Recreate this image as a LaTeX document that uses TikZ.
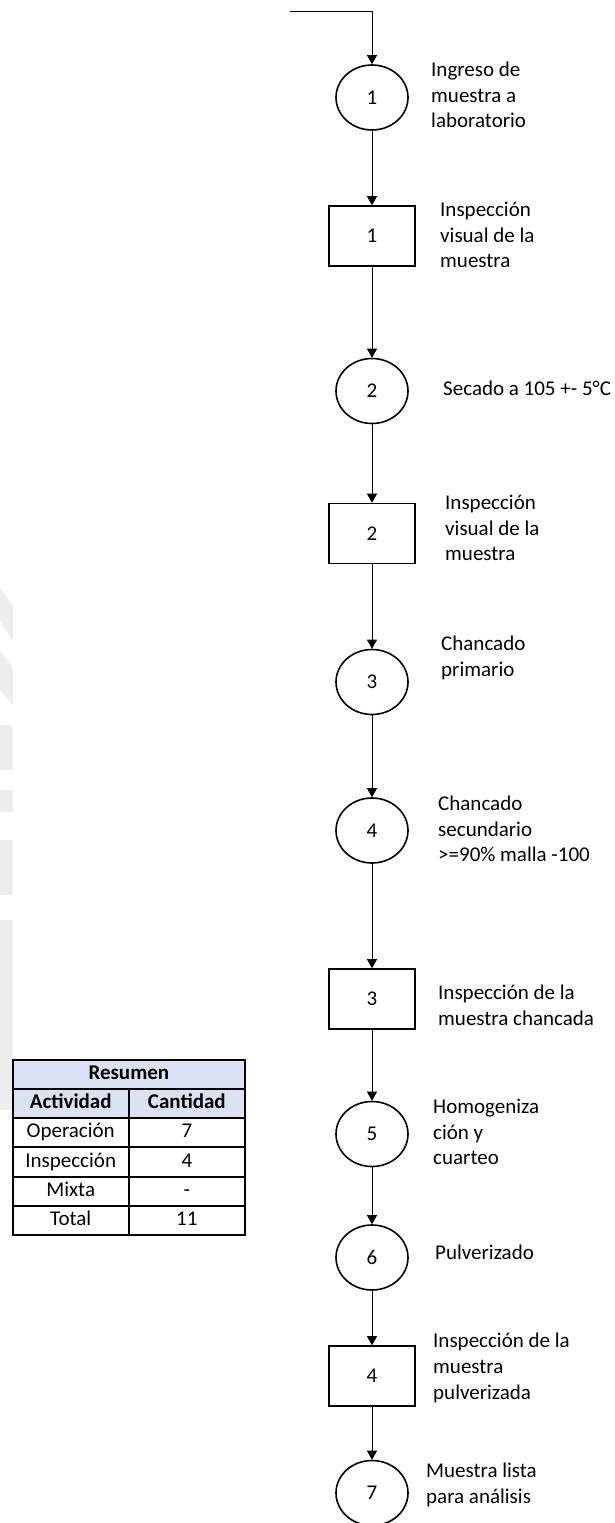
\documentclass[tikz,border=0pt]{standalone}
\usepackage{fontspec}
\setmainfont{Carlito}
\usetikzlibrary{arrows.meta,shapes.geometric}
\definecolor{hdrblue}{HTML}{D9E1F2}
\definecolor{wmgray}{HTML}{EDEDED}
\begin{document}
\begin{tikzpicture}[x=1pt,y=-1pt,
  font=\fontsize{21}{25.7}\selectfont,
  opnode/.style={draw, ellipse, line width=1.6pt, minimum width=72pt, minimum height=65pt, inner sep=0pt},
  insnode/.style={draw, rectangle, line width=1.6pt, minimum width=86pt, minimum height=60pt, inner sep=0pt},
  flow/.style={line width=0.9pt, -{Triangle[width=10pt,length=9pt]}},
  lbl/.style={anchor=west, align=left, inner sep=0pt},
  cell/.style={inner sep=0pt, text height=15pt, text depth=4.5pt},
  tblline/.style={line width=1.6pt}
]
\useasboundingbox (0,0) rectangle (614,1523);

% faint watermark fragments along the left edge
\fill[wmgray] (0,588) -- (13,606) -- (13,640) -- (0,622) -- cycle;
\fill[wmgray] (0,650) -- (13,668) -- (13,705) -- (0,690) -- cycle;
\fill[wmgray] (0,725) rectangle (13,770);
\fill[wmgray] (0,790) rectangle (13,812);
\fill[wmgray] (0,840) rectangle (13,895);
\fill[wmgray] (0,920) rectangle (13,1110);

% process steps
\node[opnode]  (o1) at (372,97.5)  {1};
\node[insnode] (i1) at (372,236)   {1};
\node[opnode]  (o2) at (372,391)   {2};
\node[insnode] (i2) at (372,533.5) {2};
\node[opnode]  (o3) at (372,682)   {3};
\node[opnode]  (o4) at (372,830.5) {4};
\node[insnode] (i3) at (372,999)   {3};
\node[opnode]  (o5) at (372,1134)  {5};
\node[opnode]  (o6) at (372,1257.5){6};
\node[insnode] (i4) at (372,1376)  {4};
\node[opnode]  (o7) at (372,1493)  {7};

% incoming line
\coordinate (start) at (290,11);
\coordinate (corner) at (372,11);
\draw[line width=0.9pt] (start) -- (corner);
\draw[flow] (corner) -- (o1);

% connectors
\draw[flow] (o1) -- (i1);
\draw[flow] (i1) -- (o2);
\draw[flow] (o2) -- (i2);
\draw[flow] (i2) -- (o3);
\draw[flow] (o3) -- (o4);
\draw[flow] (o4) -- (i3);
\draw[flow] (i3) -- (o5);
\draw[flow] (o5) -- (o6);
\draw[flow] (o6) -- (i4);
\draw[flow] (i4) -- (o7);

% step descriptions
\node[lbl] (t1)  at (431,95)   {Ingreso de\\muestra a\\laboratorio};
\node[lbl] (t2)  at (440,235)  {Inspección\\visual de la\\muestra};
\node[lbl] (t3)  at (443,388)  {Secado a 105 +- 5°C};
\node[lbl] (t4)  at (445,528)  {Inspección\\visual de la\\muestra};
\node[lbl] (t5)  at (441,658)  {Chancado\\primario};
\node[lbl] (t6)  at (438,829)  {Chancado\\secundario\\>=90\% malla -100};
\node[lbl] (t7)  at (438,1005) {Inspección de la\\muestra chancada};
\node[lbl] (t8)  at (433,1132) {Homogeniza\\ción y\\cuarteo};
\node[lbl] (t9)  at (435,1252) {Pulverizado};
\node[lbl] (t10) at (433,1368) {Inspección de la\\muestra\\pulverizada};
\node[lbl] (t11) at (426,1485) {Muestra lista\\para análisis};

% summary table
\fill[hdrblue] (12.7,1060) rectangle (245,1118);
\draw[tblline] (12.7,1060) rectangle (245,1235);
\foreach \yy in {1089,1118,1147,1177,1206}
  \draw[tblline] (12.7,\yy) -- (245,\yy);
\draw[tblline] (128.7,1089) -- (128.7,1235);

\node[cell, font=\fontsize{21}{25.7}\selectfont\bfseries] (th) at (128.85,1074.5) {Resumen};
\node[cell, font=\fontsize{21}{25.7}\selectfont\bfseries] (ha) at (70.7,1103.5) {Actividad};
\node[cell, font=\fontsize{21}{25.7}\selectfont\bfseries] (hc) at (186.85,1103.5) {Cantidad};
\node[cell] (ra1) at (70.7,1132.5)  {Operación};
\node[cell] (rc1) at (186.85,1132.5){7};
\node[cell] (ra2) at (70.7,1162)    {Inspección};
\node[cell] (rc2) at (186.85,1162)  {4};
\node[cell] (ra3) at (70.7,1191.5)  {Mixta};
\node[cell] (rc3) at (186.85,1191.5){-};
\node[cell] (ra4) at (70.7,1220.5)  {Total};
\node[cell] (rc4) at (186.85,1220.5){11};
\end{tikzpicture}
\end{document}
